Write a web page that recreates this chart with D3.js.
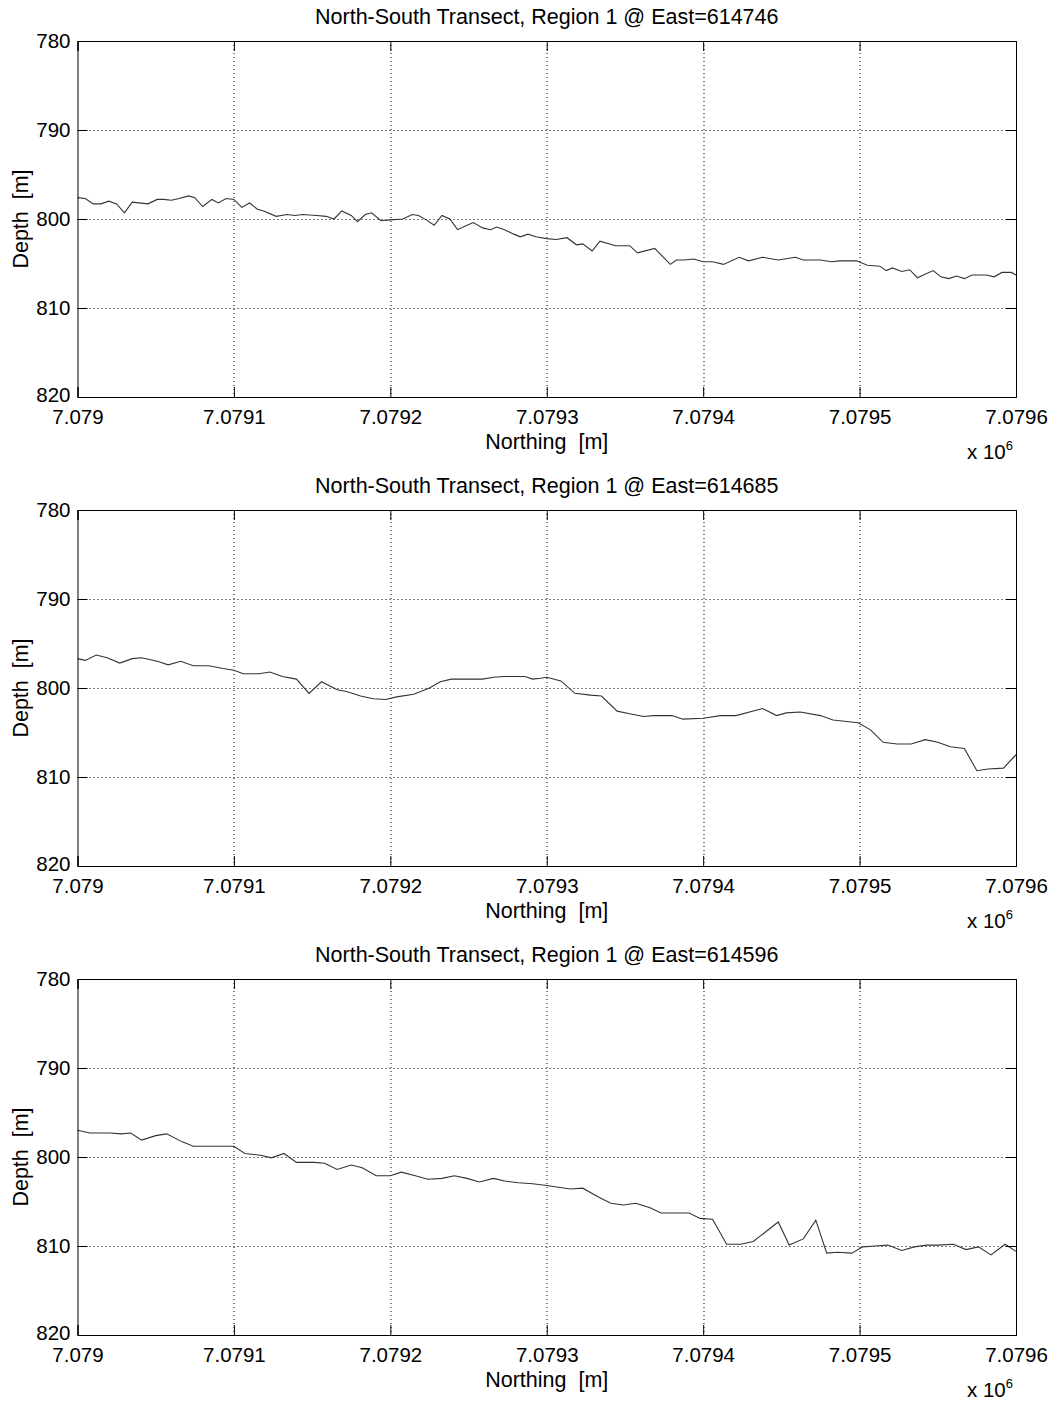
<!DOCTYPE html>
<html>
<head>
<meta charset="utf-8">
<script src="https://cdn.jsdelivr.net/npm/d3@7"></script>
<style>
    body { margin: 0; background: #fff; }
    text { font-family: Arial, "Liberation Sans", sans-serif; fill: #000; white-space: pre; }
</style>
</head>
<body>
<div id="chart"></div>
<script>
// panel titles (easting of each transect)
var eastings = [614746, 614685, 614596];

// northing ticks [m]
var northTicks = [7079000, 7079100, 7079200, 7079300, 7079400, 7079500, 7079600];
// depth ticks [m]
var depthTicks = [780, 790, 800, 810, 820];

// transect 1 @ East=614746 : northing offset from 7079000 [m], depth [m]
var north1 = [0, 5, 10, 15, 20, 25, 30, 35, 45, 51, 55, 60, 65, 71, 75, 80, 86, 90, 95, 100,
    105, 110, 115, 119, 127, 134, 139, 144, 153, 159, 164, 169, 175, 179, 184, 188, 194, 200,
    208, 214, 218, 223, 228, 233, 238, 243, 248, 253, 259, 264, 268, 273, 279, 283, 288, 293,
    300, 306, 313, 319, 323, 329, 334, 344, 353, 358, 369, 379, 383, 388, 394, 400, 406, 413,
    423, 429, 438, 448, 459, 464, 475, 482, 487, 498, 505, 513, 517, 521, 527, 532, 537, 547,
    552, 557, 562, 567, 572, 581, 586, 591, 597, 600];
var depth1 = [797.6, 797.7, 798.3, 798.3, 798.0, 798.3, 799.3, 798.1, 798.3, 797.8, 797.8, 797.9,
    797.7, 797.4, 797.6, 798.6, 797.8, 798.2, 797.7, 797.8, 798.7, 798.2, 798.9, 799.1, 799.7,
    799.5, 799.6, 799.5, 799.6, 799.7, 800.0, 799.1, 799.6, 800.3, 799.5, 799.3, 800.2, 800.1,
    800.0, 799.5, 799.6, 800.1, 800.7, 799.6, 800.0, 801.2, 800.8, 800.4, 801.0, 801.2, 800.9,
    801.2, 801.7, 802.0, 801.7, 802.0, 802.2, 802.3, 802.1, 802.9, 802.8, 803.6, 802.5, 803.0,
    803.0, 803.8, 803.3, 805.1, 804.6, 804.6, 804.5, 804.8, 804.8, 805.1, 804.3, 804.7, 804.3,
    804.6, 804.3, 804.6, 804.6, 804.8, 804.7, 804.7, 805.2, 805.3, 805.8, 805.5, 805.9, 805.7,
    806.6, 805.8, 806.5, 806.7, 806.4, 806.7, 806.3, 806.3, 806.5, 806.0, 806.0, 806.3];

// transect 2 @ East=614685
var north2 = [0, 5, 12, 19, 27, 35, 41, 51, 58, 66, 74, 84, 93, 100, 106, 116, 123, 131, 140,
    148, 156, 166, 172, 181, 189, 197, 204, 215, 225, 232, 239, 250, 259, 266, 273, 280, 286,
    291, 296, 300, 309, 318, 328, 335, 345, 353, 362, 368, 380, 387, 400, 411, 421, 438, 447,
    453, 462, 475, 483, 489, 499, 507, 515, 524, 533, 542, 550, 558, 567, 575, 582, 592, 600];
var depth2 = [796.7, 796.9, 796.3, 796.6, 797.2, 796.7, 796.6, 797.0, 797.4, 797.0, 797.5, 797.5,
    797.8, 798.0, 798.4, 798.4, 798.2, 798.7, 799.0, 800.6, 799.3, 800.2, 800.4, 800.9, 801.2,
    801.3, 801.0, 800.7, 800.0, 799.3, 799.0, 799.0, 799.0, 798.8, 798.7, 798.7, 798.7, 799.0,
    798.9, 798.8, 799.2, 800.6, 800.8, 800.9, 802.6, 802.9, 803.2, 803.1, 803.1, 803.5, 803.4,
    803.1, 803.1, 802.3, 803.1, 802.8, 802.7, 803.1, 803.6, 803.7, 803.9, 804.7, 806.1, 806.3,
    806.3, 805.8, 806.1, 806.6, 806.8, 809.3, 809.1, 809.0, 807.5];

// transect 3 @ East=614596
var north3 = [0, 8, 21, 28, 34, 41, 50, 57, 67, 74, 85, 100, 107, 117, 124, 132, 140, 151, 158,
    166, 175, 182, 191, 200, 207, 216, 224, 233, 241, 249, 257, 266, 273, 282, 291, 300, 315,
    323, 333, 341, 349, 357, 366, 373, 391, 398, 406, 415, 424, 432, 448, 455, 464, 472, 479,
    486, 495, 502, 510, 518, 527, 535, 543, 550, 560, 568, 576, 584, 593, 600];
var depth3 = [797.0, 797.3, 797.3, 797.4, 797.3, 798.1, 797.6, 797.4, 798.3, 798.8, 798.8, 798.8,
    799.6, 799.8, 800.1, 799.6, 800.6, 800.6, 800.7, 801.4, 800.9, 801.2, 802.1, 802.1, 801.7,
    802.1, 802.5, 802.4, 802.1, 802.4, 802.8, 802.4, 802.7, 802.9, 803.0, 803.2, 803.6, 803.5,
    804.5, 805.2, 805.4, 805.2, 805.7, 806.3, 806.3, 806.9, 807.0, 809.8, 809.8, 809.5, 807.3,
    809.9, 809.2, 807.1, 810.8, 810.7, 810.8, 810.1, 810.0, 809.9, 810.5, 810.1, 809.9, 809.9,
    809.8, 810.4, 810.1, 811.0, 809.8, 810.6];

var northBase = 7079000;
var series = [[north1, depth1], [north2, depth2], [north3, depth3]];

var W = 1055, H = 1402;
var margin = {left: 77.5, width: 938.5, height: 356},
    panelTops = [41, 510, 979];

var svg = d3.select("#chart").append("svg")
    .attr("width", W)
    .attr("height", H);

var x = d3.scaleLinear()
    .domain([7079000, 7079600])
    .range([0, margin.width]);

var y = d3.scaleLinear()
    .domain([780, 820])
    .range([0, margin.height]);

function fmtNorth(d) {
    return (d / 1e6).toFixed(4).replace(/0+$/, "");
}

series.forEach(function(s, i) {
    var g = svg.append("g")
        .attr("transform", "translate(" + margin.left + "," + panelTops[i] + ")");

    var pts = s[0].map(function(n, k) { return {n: northBase + n, d: s[1][k]}; });

    // dotted grid
    g.append("g").selectAll("line.gx")
        .data(northTicks.slice(1, -1)).enter()
        .append("line")
        .attr("x1", function(d){ return Math.round(x(d)) + 0.5; })
        .attr("x2", function(d){ return Math.round(x(d)) + 0.5; })
        .attr("y1", 0).attr("y2", margin.height)
        .attr("stroke", "#000").attr("stroke-width", 1)
        .attr("stroke-dasharray", "1,3");
    g.append("g").selectAll("line.gy")
        .data(depthTicks.slice(1, -1)).enter()
        .append("line")
        .attr("y1", function(d){ return Math.round(y(d)) + 0.5; })
        .attr("y2", function(d){ return Math.round(y(d)) + 0.5; })
        .attr("x1", 0).attr("x2", margin.width)
        .attr("stroke", "#000").attr("stroke-width", 1)
        .attr("stroke-dasharray", "1,3");

    // depth profile
    var line = d3.line()
        .x(function(d){ return x(d.n); })
        .y(function(d){ return y(d.d); });
    g.append("path")
        .datum(pts)
        .attr("fill", "none")
        .attr("stroke", "#333")
        .attr("stroke-width", 1.1)
        .attr("d", line);

    // axes, ticks pointing inward like matlab
    g.append("g")
        .attr("transform", "translate(0," + margin.height + ")")
        .call(d3.axisBottom(x).tickValues(northTicks).tickFormat(fmtNorth).tickSize(-10).tickPadding(12));
    g.append("g")
        .call(d3.axisTop(x).tickValues(northTicks).tickFormat("").tickSize(-10));
    var yAx = g.append("g")
        .call(d3.axisLeft(y).tickValues(depthTicks).tickSize(-10).tickPadding(7));
    g.append("g")
        .attr("transform", "translate(" + margin.width + ",0)")
        .call(d3.axisRight(y).tickValues(depthTicks).tickFormat("").tickSize(-10));

    g.selectAll(".domain").attr("stroke", "#000");
    g.selectAll(".tick line").attr("stroke", "#000");
    g.selectAll(".tick text")
        .style("font-family", "Arial, 'Liberation Sans', sans-serif")
        .style("font-size", "20.5px")
        .attr("fill", "#000");
    // lowest depth label sits just above the northing labels
    yAx.selectAll(".tick text").filter(function(d){ return d === 820; }).attr("dy", "0.2em");

    // title
    g.append("text")
        .attr("x", margin.width / 2)
        .attr("y", -17)
        .attr("text-anchor", "middle")
        .style("font-size", "21.5px")
        .text("North-South Transect, Region 1 @ East=" + eastings[i]);

    // axis labels
    g.append("text")
        .attr("x", margin.width / 2)
        .attr("y", margin.height + 52)
        .attr("text-anchor", "middle")
        .style("font-size", "21.5px")
        .text("Northing  [m]");

    g.append("text")
        .attr("transform", "translate(" + (28 - margin.left) + "," + (margin.height / 2) + ") rotate(-90)")
        .attr("text-anchor", "middle")
        .style("font-size", "21.5px")
        .text("Depth  [m]");

    // exponent label
    var ex = g.append("text")
        .attr("x", margin.width - 49)
        .attr("y", margin.height + 62)
        .style("font-size", "20.5px");
    ex.append("tspan").text("x 10");
    ex.append("tspan").attr("dy", -9).style("font-size", "13px").text("6");
});
</script>
</body>
</html>
